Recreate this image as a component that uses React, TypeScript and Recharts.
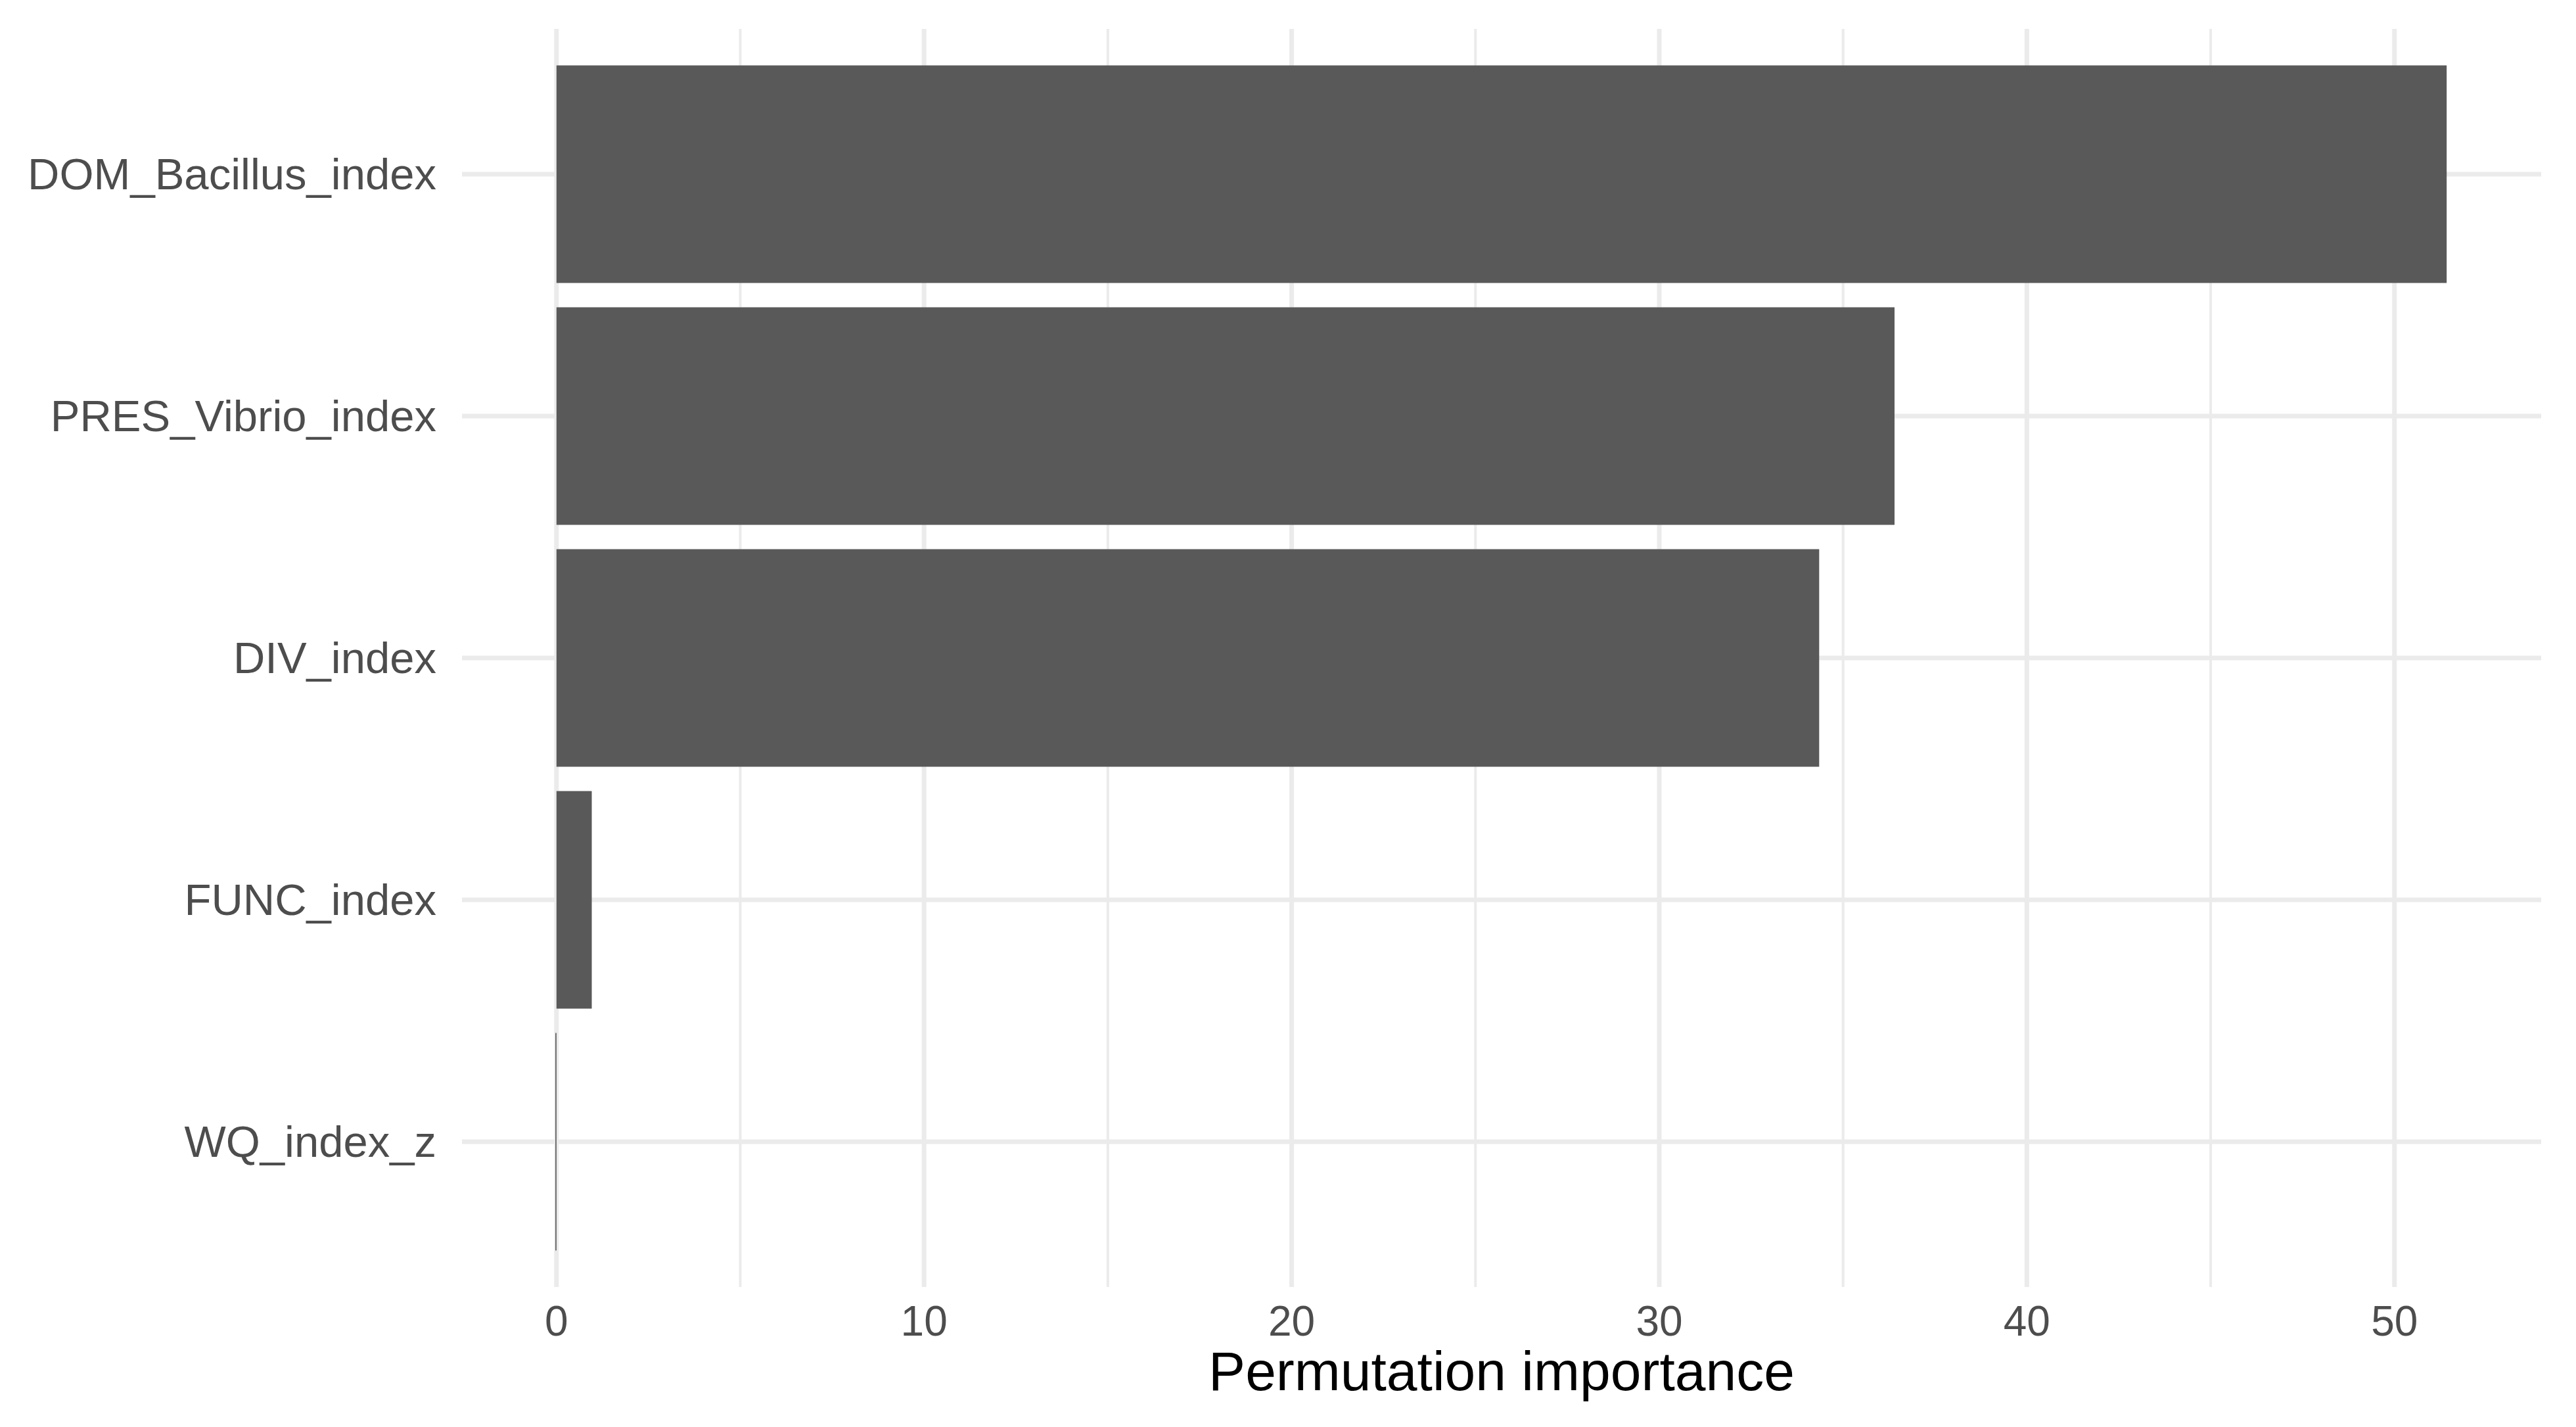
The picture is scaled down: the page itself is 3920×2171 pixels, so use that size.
import { BarChart, Bar, XAxis, YAxis, CartesianGrid } from 'recharts'

const features = ['DOM_Bacillus_index', 'PRES_Vibrio_index', 'DIV_index', 'FUNC_index', 'WQ_index_z']
const importance = [51.42, 36.4, 34.35, 0.96, -0.03]
const majorTicks = [0, 10, 20, 30, 40, 50]
const minorTicks = [5, 15, 25, 35, 45]

const data = features.map((name, i) => ({ name, value: importance[i] }))

// ggplot-style 5% expansion on either side of the data range
const maxV = Math.max(...importance)
const xDomain = [-0.05 * maxV, 1.05 * maxV]

const FONT = '"Liberation Sans", Arial, Helvetica, sans-serif'

const XTick = (props: any) => (
    <text x={props.x} y={props.y + 74} textAnchor="middle" fill="#4d4d4d" fontSize={64} fontFamily={FONT}>
        {props.payload.value}
    </text>
)

const YTick = (props: any) => (
    <text x={props.x - 39} y={props.y + 23} textAnchor="end" fill="#4d4d4d" fontSize={67} fontFamily={FONT}>
        {props.payload.value}
    </text>
)

export default function App() {
    return (
        <div style={{ position: 'absolute', left: 0, top: 0, width: 3920, height: 2171, background: '#fff' }}>
            <BarChart
                width={3920}
                height={2171}
                data={data}
                layout="vertical"
                barCategoryGap="5%"
                margin={{ top: 44, right: 53, bottom: 0, left: 0 }}
            >
                {/* minor grid */}
                <CartesianGrid horizontal={false} verticalValues={minorTicks} syncWithTicks stroke="#ebebeb" strokeWidth={4} />
                {/* major grid */}
                <CartesianGrid syncWithTicks stroke="#ebebeb" strokeWidth={7} />
                <XAxis
                    type="number"
                    domain={xDomain}
                    allowDataOverflow
                    ticks={majorTicks}
                    axisLine={false}
                    tickLine={false}
                    tickSize={0}
                    tickMargin={0}
                    height={213}
                    tick={XTick}
                    label={{
                        value: 'Permutation importance',
                        position: 'insideBottom',
                        offset: 56,
                        fill: '#000',
                        fontSize: 84,
                        fontFamily: FONT
                    }}
                />
                <YAxis
                    type="category"
                    dataKey="name"
                    width={703}
                    padding={{ top: 37, bottom: 37 }}
                    axisLine={false}
                    tickLine={false}
                    tickSize={0}
                    tickMargin={0}
                    tick={YTick}
                />
                <Bar dataKey="value" fill="#595959" isAnimationActive={false} />
            </BarChart>
        </div>
    )
}
